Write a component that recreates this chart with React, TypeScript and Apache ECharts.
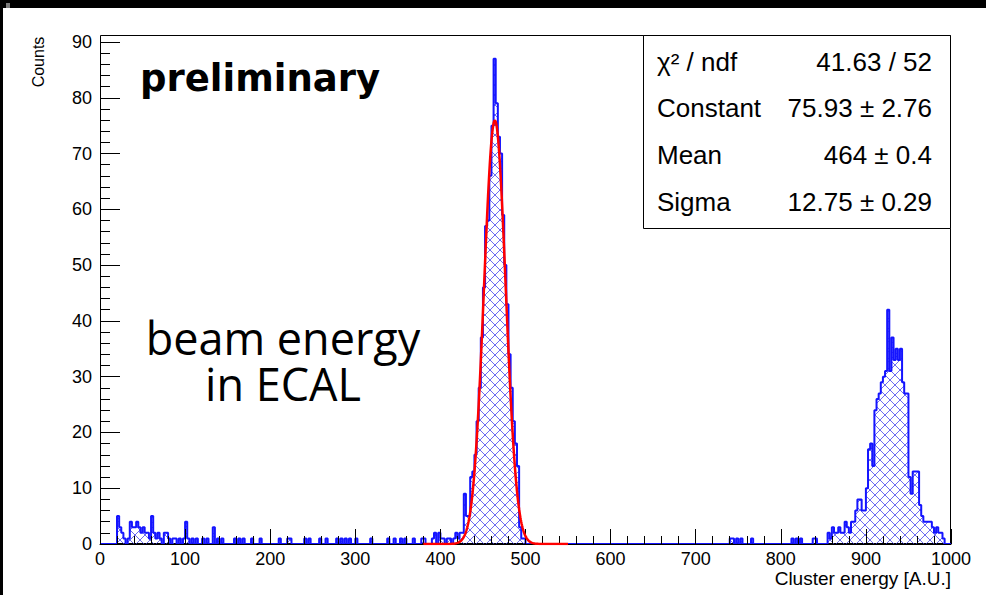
import React, { useEffect, useRef } from "react";
import * as echarts from "echarts";

// Histogram binning
const BIN_WIDTH = 2.5;
const X_MIN = 0;
const X_MAX = 1000;

// Sparse low-energy tail: lower bin edge and counts
const lowTailEdges = [
  20, 22.5, 25, 27.5, 32.5, 35, 37.5, 40, 42.5, 45, 47.5, 50, 52.5, 55, 57.5, 60, 62.5, 65, 67.5, 70,
  75, 77.5, 80, 85, 87.5, 92.5, 97.5, 100, 102.5, 107.5, 112.5, 120, 125, 132.5, 137.5, 142.5, 157.5,
  162.5, 167.5, 177.5, 187.5, 210, 220, 222.5, 240, 245, 257.5, 265, 277.5, 282.5, 287.5, 292.5, 300,
  317.5, 337.5, 345, 352.5, 357.5, 367.5, 377.5, 380, 390, 392.5, 397.5, 400, 402.5, 407.5, 410, 415,
  417.5, 420, 422.5,
];
const lowTailCounts = [
  5, 3, 2, 1, 1, 4, 3, 3, 4, 3, 2, 3, 2, 2, 1, 5, 2, 1, 2, 1,
  2, 2, 1, 1, 1, 1, 1, 4, 1, 1, 1, 1, 1, 3, 1, 1, 1,
  1, 1, 1, 1, 1, 1, 1, 1, 1, 1, 1, 1, 1, 1, 1, 1,
  1, 1, 1, 1, 1, 1, 1, 1, 1, 2, 2, 1, 1, 1, 1, 1,
  2, 1, 2,
];

// Main peak, contiguous bins starting at beamPeakStart
const beamPeakStart = 425;
const beamPeakCounts = [
  2, 9, 5, 5, 12, 13, 16, 22, 28, 37, 46, 57, 58, 66, 75, 87, 79, 73, 70, 59,
  50, 43, 34, 28, 22, 18, 14, 3, 1, 1,
];

// Sparse bins between the two peaks
const midEdges = [740, 742.5, 747.5, 752.5, 765, 812.5, 817.5, 822.5, 837.5, 840];
const midCounts = [1, 1, 1, 1, 1, 1, 1, 1, 1, 1];

// Second peak, contiguous bins starting at highPeakStart
const highPeakStart = 855;
const highPeakCounts = [
  2, 1, 3, 2, 2, 3, 2, 2, 4, 3, 2, 4, 4, 6, 8, 8, 6, 6, 10, 17,
  18, 14, 24, 26, 27, 29, 30, 31, 42, 31, 37, 33, 35, 33, 35, 29, 27, 27, 12, 9,
  13, 13, 13, 7, 5, 4, 4, 4, 4, 3, 2, 3, 2, 2, 1,
];

// Gaussian fit result
const fitConstant = 75.93;
const fitMean = 464;
const fitSigma = 12.75;
const fitRange = [380, 550];

// Fit statistics box
const statLabels = ["\u03c7\u00b2 / ndf", "Constant", "Mean", "Sigma"];
const statValues = ["41.63 / 52", "75.93 \u00b1 2.76", "464 \u00b1 0.4", "12.75 \u00b1 0.29"];

const FONT = "'Liberation Sans', Arial, sans-serif";

function buildHistogram(): number[][] {
  const n = Math.round((X_MAX - X_MIN) / BIN_WIDTH);
  const counts: number[] = new Array(n).fill(0);
  const put = (edge: number, c: number) => {
    const i = Math.round((edge - X_MIN) / BIN_WIDTH);
    if (i >= 0 && i < n) counts[i] = c;
  };
  lowTailEdges.forEach((e, i) => put(e, lowTailCounts[i]));
  beamPeakCounts.forEach((c, i) => put(beamPeakStart + i * BIN_WIDTH, c));
  midEdges.forEach((e, i) => put(e, midCounts[i]));
  highPeakCounts.forEach((c, i) => put(highPeakStart + i * BIN_WIDTH, c));
  const pts = counts.map((c, i) => [X_MIN + i * BIN_WIDTH, c]);
  pts.push([X_MAX, counts[n - 1]]);
  return pts;
}

function buildFit(): number[][] {
  const pts: number[][] = [];
  for (let x = fitRange[0]; x <= fitRange[1]; x += 0.5) {
    const z = (x - fitMean) / fitSigma;
    pts.push([x, fitConstant * Math.exp(-0.5 * z * z)]);
  }
  return pts;
}

// Cross-hatch fill tile
function makeHatch(): HTMLCanvasElement {
  const s = 10;
  const cv = document.createElement("canvas");
  cv.width = s;
  cv.height = s;
  const g = cv.getContext("2d")!;
  g.strokeStyle = "rgba(60,60,235,0.75)";
  g.lineWidth = 1;
  g.beginPath();
  for (const off of [-s, 0, s]) {
    g.moveTo(off, 0);
    g.lineTo(off + s, s);
    g.moveTo(off + s, 0);
    g.lineTo(off, s);
  }
  g.stroke();
  return cv;
}

export default function App() {
  const ref = useRef<HTMLDivElement>(null);

  useEffect(() => {
    if (!ref.current) return;
    const chart = echarts.init(ref.current, undefined, { renderer: "svg" });
    const hatch = makeHatch();

    const statTexts: any[] = [];
    const rowY = [62, 108, 155, 202];
    statLabels.forEach((t, i) => {
      statTexts.push({
        type: "text",
        x: 657,
        y: rowY[i],
        style: { text: t, fill: "#000", font: `26px ${FONT}`, align: "left", verticalAlign: "middle" },
      });
      statTexts.push({
        type: "text",
        x: 932,
        y: rowY[i],
        style: { text: statValues[i], fill: "#000", font: `26px ${FONT}`, align: "right", verticalAlign: "middle" },
      });
    });

    const annotation = (text: string, y: number) => ({
      type: "text",
      z: 60,
      x: 283,
      y,
      style: {
        text,
        fill: "#000",
        font: `45px 'Open Sans', sans-serif`,
        lineHeight: 45,
        align: "center",
        verticalAlign: "middle",
      },
    });

    chart.setOption({
      animation: false,
      backgroundColor: "#fff",
      grid: { left: 100, right: 35, top: 42, bottom: 51, show: false },
      xAxis: {
        type: "value",
        min: X_MIN,
        max: X_MAX,
        interval: 100,
        z: 5,
        axisLine: { show: true, onZero: false, lineStyle: { color: "#000", width: 1 } },
        axisTick: { show: true, inside: true, length: 15, lineStyle: { color: "#000", width: 1 } },
        minorTick: { show: true, splitNumber: 5, length: 8, lineStyle: { color: "#000", width: 1 } },
        splitLine: { show: false },
        minorSplitLine: { show: false },
        axisLabel: {
          color: "#000",
          fontSize: 18,
          fontFamily: FONT,
          margin: 6,
          formatter: (v: number) => String(v),
        },
      },
      yAxis: {
        type: "value",
        min: 0,
        max: 90,
        interval: 10,
        z: 5,
        axisLine: { show: true, lineStyle: { color: "#000", width: 1 } },
        axisTick: { show: true, inside: true, length: 20, lineStyle: { color: "#000", width: 1 } },
        minorTick: { show: true, splitNumber: 5, length: 10, lineStyle: { color: "#000", width: 1 } },
        splitLine: { show: false },
        minorSplitLine: { show: false },
        axisLabel: {
          color: "#000",
          fontSize: 18,
          fontFamily: FONT,
          margin: 8,
          formatter: (v: number) => String(v),
        },
      },
      series: [
        {
          name: "Counts",
          type: "line",
          step: "end",
          data: buildHistogram(),
          showSymbol: false,
          z: 2,
          lineStyle: { color: "#1414ff", width: 2 },
          areaStyle: { color: { image: hatch, repeat: "repeat" } as any, opacity: 1, origin: "start" },
        },
        {
          name: "Fit",
          type: "line",
          data: buildFit(),
          showSymbol: false,
          smooth: false,
          z: 8,
          lineStyle: { color: "#ff0000", width: 2.5 },
        },
      ],
      graphic: [
        { type: "rect", z: 100, shape: { x: 0, y: 0, width: 986, height: 8 }, style: { fill: "#000" } },
        { type: "rect", z: 100, shape: { x: 0, y: 0, width: 3, height: 595 }, style: { fill: "#000" } },
        { type: "rect", z: 101, shape: { x: 6, y: 3, width: 4, height: 5 }, style: { fill: "#7a7a7a" } },
        {
          type: "rect",
          z: 1,
          shape: { x: 100.5, y: 35.5, width: 850, height: 508 },
          style: { fill: "none", stroke: "#000", lineWidth: 1 },
        },
        {
          type: "text",
          z: 60,
          x: 38,
          y: 62,
          rotation: Math.PI / 2,
          style: { text: "Counts", fill: "#000", font: `16px ${FONT}`, align: "center", verticalAlign: "middle" },
        },
        {
          type: "text",
          z: 60,
          x: 951,
          y: 578,
          style: { text: "Cluster energy [A.U.]", fill: "#000", font: `19px ${FONT}`, align: "right", verticalAlign: "middle" },
        },
        {
          type: "text",
          z: 60,
          x: 140,
          y: 78,
          style: {
            text: "preliminary",
            fill: "#000",
            font: `bold 37px 'DejaVu Sans', sans-serif`,
            align: "left",
            verticalAlign: "middle",
          },
        },
        annotation("beam energy", 337),
        annotation("in ECAL", 383),
        {
          type: "group",
          z: 90,
          children: [
            {
              type: "rect",
              z: 90,
              shape: { x: 643.5, y: 35.5, width: 307, height: 193 },
              style: { fill: "#fff", stroke: "#000", lineWidth: 1 },
            },
            ...statTexts.map((t) => ({ ...t, z: 91 })),
          ],
        },
      ],
    });

    return () => chart.dispose();
  }, []);

  return (
    <div
      ref={ref}
      style={{ position: "absolute", left: 0, top: 0, width: 986, height: 595 }}
    />
  );
}
